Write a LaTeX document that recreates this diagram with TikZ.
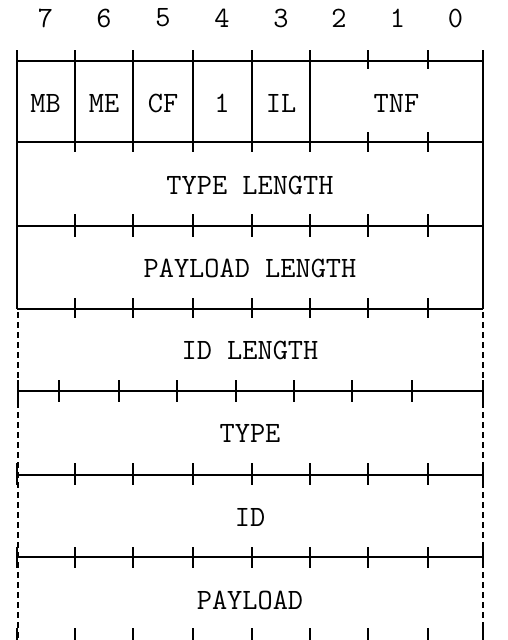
\documentclass[tikz,border=0pt]{standalone}
\usepackage{fontspec}
\begin{document}
\begin{tikzpicture}[x=1pt,y=-1pt,
  ln/.style={line width=1.8pt, black},
  dsh/.style={line width=1.8pt, black, dash pattern=on 6pt off 4pt},
  lbl/.style={font=\ttfamily\fontsize{29.5}{30}\selectfont, inner sep=0pt, anchor=center}]
\useasboundingbox (0,0) rectangle (508,640);
% bit numbers
\foreach \b/\x in {7/45.5,6/104,5/163,4/222,3/281,2/339,1/397.5,0/455.5}
  \node[lbl] (bit\b) at (\x,18) {\b};
% solid outline part
\draw[ln] (16.7,50) -- (16.7,309);
\draw[ln] (483,50) -- (483,309);
\foreach \y in {61,142,226,309} \draw[ln] (16.7,\y) -- (483,\y);
% header verticals
\foreach \x in {75,133,193,252,310} \draw[ln] (\x,50) -- (\x,152);
\foreach \x in {368,428} {\draw[ln] (\x,50) -- (\x,69); \draw[ln] (\x,132) -- (\x,152);}
% ticks on 226 and 309
\foreach \x in {75,133,193,252,310,368,428} {
  \draw[ln] (\x,214) -- (\x,237);
  \draw[ln] (\x,298) -- (\x,318);
}
% dashed sides
\draw[dsh] (18,312) -- (18,640);
\draw[dsh] (483,312) -- (483,640);
% line 391 with shifted ticks
\draw[ln] (18,391) -- (483,391);
\foreach \x in {18,59,119,177,236,294,352,412,483} \draw[ln] (\x,380) -- (\x,402);
% line 475
\draw[ln] (17,475) -- (483,475);
\foreach \x in {17,75,133,193,252,310,368,428,483} \draw[ln] (\x,463) -- (\x,485);
% line 557
\draw[ln] (17,557) -- (483,557);
\foreach \x in {17,75,133,193,252,310,368,428,483} \draw[ln] (\x,547) -- (\x,568);
% bottom ticks
\foreach \x in {17,75,133,193,252,310,368,428,483} \draw[ln] (\x,628) -- (\x,641);
\draw[ln] (17,641) -- (483,641);
% header labels
\node[lbl] (mb) at (45.5,103) {MB};
\node[lbl] (me) at (104,103) {ME};
\node[lbl] (cf) at (163,103) {CF};
\node[lbl] (one) at (222,103) {1};
\node[lbl] (il) at (281,103) {IL};
\node[lbl] (tnf) at (396.5,103) {TNF};
% row labels
\node[lbl] (tl) at (250,185) {TYPE LENGTH};
\node[lbl] (pl) at (250,268) {PAYLOAD LENGTH};
\node[lbl] (idl) at (250,350) {ID LENGTH};
\node[lbl] (type) at (250,433) {TYPE};
\node[lbl] (id) at (250,517) {ID};
\node[lbl] (payload) at (250,600) {PAYLOAD};
\end{tikzpicture}
\end{document}
